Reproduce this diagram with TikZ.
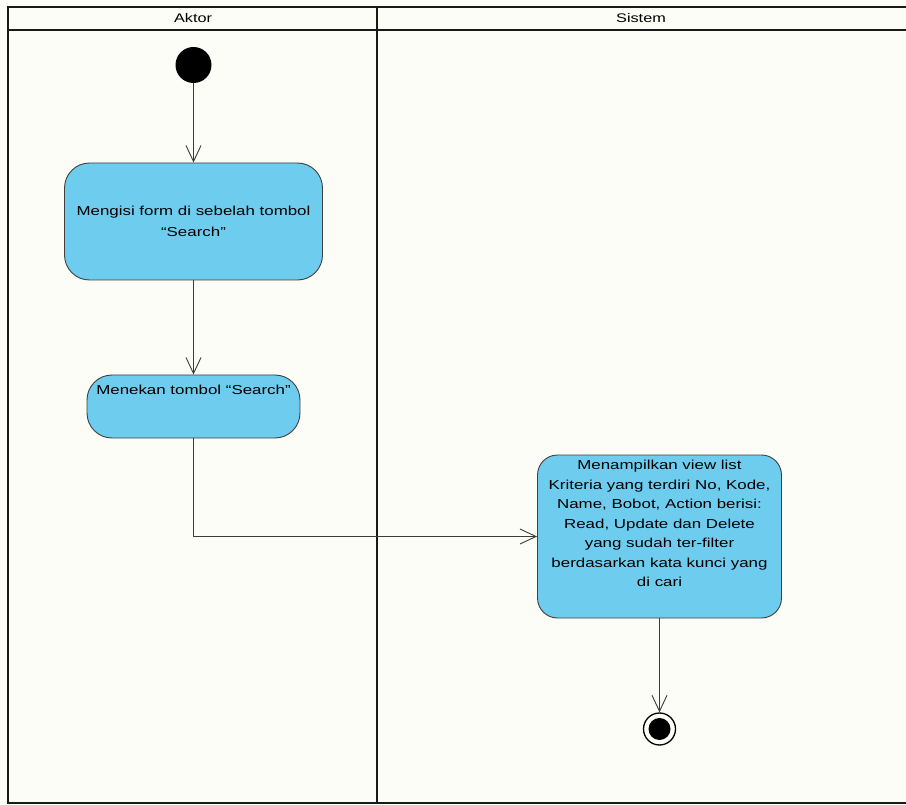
\documentclass[tikz,border=0pt]{standalone}
\usepackage{fontspec}
\newfontfamily\umlfont[FakeStretch=1.3]{Liberation Sans}
\usetikzlibrary{arrows.meta}
\definecolor{actfill}{RGB}{110,204,238}
\definecolor{paper}{RGB}{252,253,247}
\definecolor{edgegray}{RGB}{60,60,60}

\begin{document}
\begin{tikzpicture}[x=1pt,y=-1pt,
  lane/.style={draw=black!90, line width=2pt},
  act/.style={draw=black!75, line width=0.9pt, fill=actfill, inner sep=0pt},
  txt/.style={font=\umlfont\fontsize{13}{19.5}\selectfont, align=center, inner sep=0pt, text=black},
  flow/.style={draw=edgegray, line width=0.9pt, -{Straight Barb[length=16pt,width=15pt]}},
  head/.style={font=\umlfont\fontsize{12.5}{14}\selectfont, inner sep=0pt, text=black}
]
\fill[paper] (0,0) rectangle (906,805);
\useasboundingbox (0,0) rectangle (906,805);

% swimlanes
\draw[lane] (8,7) rectangle (912,803);
\draw[lane] (8,30) -- (912,30);
\draw[lane] (377,7) -- (377,803);
\node[head] (hA) at (193,18) {Aktor};
\node[head] (hS) at (641,18) {Sistem};

% initial node
\node[circle, fill=black, minimum size=36pt, inner sep=0pt] (start) at (193.5,65) {};

% actions
\node[act, rounded corners=25pt, minimum width=258pt, minimum height=117pt] (n1) at (193.5,221.5) {};
\node[txt, font=\umlfont\fontsize{13}{21}\selectfont] (n1t) at (n1.center) {Mengisi form di sebelah tombol\\“Search”};

\node[act, rounded corners=25pt, minimum width=213pt, minimum height=63pt] (n2) at (193.5,406.5) {};
\node[txt, anchor=base] (n2t) at (193.5,395) {Menekan tombol “Search”};

\node[act, rounded corners=20pt, minimum width=244pt, minimum height=163pt] (n3) at (659.5,536.5) {};
\node[txt, anchor=north] (n3t) at (659.5,460) {Menampilkan view list\\Kriteria yang terdiri No, Kode,\\Name, Bobot, Action berisi:\\Read, Update dan Delete\\yang sudah ter-filter\\berdasarkan kata kunci yang\\di cari};

% final node
\node[circle, draw=black, line width=1.3pt, minimum size=32pt, inner sep=0pt] (fin) at (659.5,729) {};
\node[circle, fill=black, minimum size=22pt, inner sep=0pt] (finin) at (fin.center) {};

% control flow
\draw[flow] (start.south) -- (n1.north);
\draw[flow] (n1.south) -- (n2.north);
\draw[flow] (n2.south) |- (n3.west);
\draw[flow] (n3.south) -- (fin.north);
\end{tikzpicture}
\end{document}
